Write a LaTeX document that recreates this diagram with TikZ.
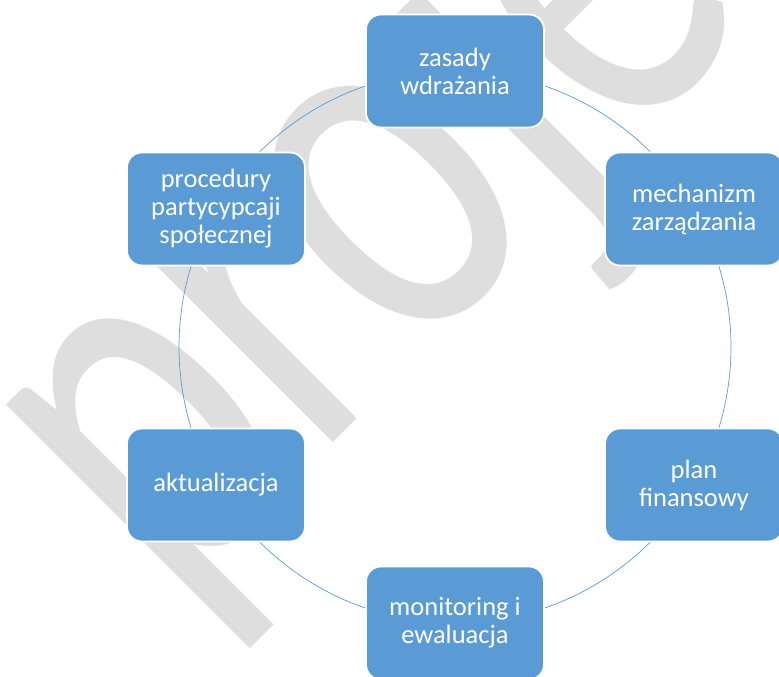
\documentclass[tikz,border=0pt]{standalone}
\usepackage{fontspec}
\setmainfont{Carlito}
\usetikzlibrary{backgrounds}
\definecolor{boxblue}{RGB}{91,155,213}
\definecolor{wmgray}{RGB}{222,222,222}
\tikzset{
  box/.style={draw=white,line width=1.8pt,fill=boxblue,rounded corners=15pt,
    minimum width=178pt,minimum height=113pt,inner sep=0pt,
    text=white,align=center,font=\fontsize{26.5}{28}\selectfont},
  ring/.style={draw=boxblue,line width=0.7pt},
  wmark/.style={text=wmgray,inner sep=0pt,font=\fontsize{540}{540}\selectfont}
}

\begin{document}
\begin{tikzpicture}[x=1pt,y=1pt]
          \useasboundingbox (-455,-330) rectangle (324,347);
          \node[box] (Z) at (90:276) {zasady\\wdrażania};
          \node[box] (M) at (30:276) {mechanizm\\zarządzania};
          \node[box] (F) at (-30:276) {plan\\finansowy};
          \node[box] (E) at (-90:276) {monitoring i\\ewaluacja};
          \node[box] (A) at (210:276) {aktualizacja};
          \node[box] (P) at (150:276) {procedury\\partycypcaji\\społecznej};
          \begin{scope}[on background layer]
            \clip (-455,-330) rectangle (324,347);
            \node[wmark,rotate=45,xscale=0.73,anchor=base west] (WM) at (-286,-260) {projekt};
            % ring: Z -> M -> F -> E -> A -> P -> Z
            \path[ring] (Z.center) arc[start angle=90,end angle=30,radius=276];
            \path[ring] (M.center) arc[start angle=30,end angle=-30,radius=276];
            \path[ring] (F.center) arc[start angle=-30,end angle=-90,radius=276];
            \path[ring] (E.center) arc[start angle=-90,end angle=-150,radius=276];
            \path[ring] (A.center) arc[start angle=210,end angle=150,radius=276];
            \path[ring] (P.center) arc[start angle=150,end angle=90,radius=276];
          \end{scope}
        \end{tikzpicture}
\end{document}
